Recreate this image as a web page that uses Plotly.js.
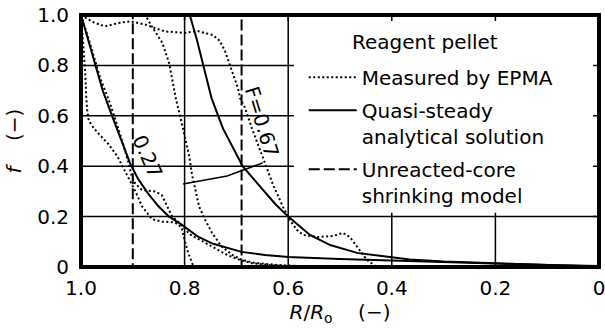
<!DOCTYPE html>
<html><head><meta charset="utf-8">
<script src="https://cdn.plot.ly/plotly-3.0.1.min.js"></script>
<style>html,body{margin:0;padding:0;background:#fff}</style>
</head><body>
<div id="chart" style="width:605px;height:329px"></div>
<script>
// ---- Measured by EPMA (dotted) ----
const measA_R = [1.0, 0.996, 0.992, 0.99, 0.988, 0.985, 0.975, 0.962, 0.948, 0.93, 0.915, 0.905, 0.895, 0.882, 0.863, 0.844, 0.824, 0.813, 0.805, 0.80, 0.793, 0.784, 0.775, 0.0];
const measA_F = [1.0, 0.90, 0.78, 0.68, 0.62, 0.58, 0.55, 0.52, 0.49, 0.44, 0.38, 0.34, 0.30, 0.24, 0.19, 0.18, 0.178, 0.172, 0.15, 0.107, 0.055, 0.008, 0.0, 0.0];
const measB_R = [1.0, 0.983, 0.963, 0.944, 0.925, 0.909, 0.902, 0.895, 0.882, 0.857, 0.844, 0.834, 0.824, 0.813, 0.803, 0.79, 0.77, 0.745, 0.718, 0.693, 0.67, 0.64, 0.6, 0.55, 0.0];
const measB_F = [1.0, 0.89, 0.75, 0.65, 0.53, 0.42, 0.36, 0.33, 0.305, 0.30, 0.285, 0.24, 0.20, 0.18, 0.16, 0.13, 0.107, 0.08, 0.048, 0.028, 0.015, 0.008, 0.003, 0.0, 0.0];
const measC_R = [1.0, 0.876, 0.862, 0.843, 0.83, 0.824, 0.817, 0.81, 0.804, 0.797, 0.791, 0.786, 0.78, 0.772, 0.761, 0.747, 0.728, 0.708, 0.689, 0.664, 0.62, 0.57, 0.5, 0.0];
const measC_F = [1.0, 1.0, 0.95, 0.89, 0.81, 0.74, 0.67, 0.61, 0.56, 0.49, 0.44, 0.37, 0.31, 0.24, 0.19, 0.135, 0.08, 0.048, 0.028, 0.016, 0.008, 0.003, 0.0, 0.0];
const measD_R = [1.0, 0.975, 0.954, 0.928, 0.905, 0.876, 0.857, 0.838, 0.80, 0.776, 0.745, 0.732, 0.722, 0.712, 0.703, 0.697, 0.693, 0.683, 0.67, 0.658, 0.649, 0.639, 0.629, 0.622, 0.61, 0.597, 0.583, 0.571, 0.544, 0.514, 0.494, 0.481, 0.467, 0.448, 0.429, 0.0];
const measD_F = [1.0, 0.97, 0.955, 0.968, 0.975, 0.962, 0.948, 0.935, 0.929, 0.937, 0.92, 0.897, 0.857, 0.80, 0.75, 0.71, 0.67, 0.63, 0.55, 0.484, 0.433, 0.377, 0.325, 0.294, 0.238, 0.187, 0.147, 0.127, 0.119, 0.123, 0.135, 0.119, 0.079, 0.028, 0.0, 0.0];

// ---- Quasi-steady analytical solution (solid) ----
const qsA_R = [1.0, 0.985, 0.972, 0.958, 0.94, 0.922, 0.905, 0.89, 0.87, 0.85, 0.83, 0.805, 0.774, 0.745, 0.716, 0.69, 0.645, 0.6, 0.5, 0.436, 0.3, 0.2, 0.1, 0.0];
const qsA_F = [1.0, 0.89, 0.80, 0.70, 0.60, 0.50, 0.41, 0.35, 0.29, 0.24, 0.20, 0.167, 0.12, 0.092, 0.075, 0.06, 0.048, 0.04, 0.032, 0.028, 0.02, 0.014, 0.007, 0.002];
const qsC_R = [1.0, 0.79, 0.776, 0.764, 0.748, 0.726, 0.706, 0.688, 0.67, 0.65, 0.625, 0.6, 0.578, 0.558, 0.519, 0.467, 0.404, 0.365, 0.3, 0.2, 0.1, 0.0];
const qsC_F = [1.0, 1.0, 0.90, 0.80, 0.67, 0.55, 0.47, 0.40, 0.357, 0.31, 0.25, 0.20, 0.16, 0.127, 0.087, 0.056, 0.04, 0.03, 0.022, 0.014, 0.008, 0.004];

// ---- Unreacted-core shrinking model (dashed) ----
const ucA_R = [1.0, 0.9, 0.9, 0.0];
const ucA_F = [1.0, 1.0, 0.0, 0.0];
const ucC_R = [1.0, 0.69, 0.69, 0.0];
const ucC_F = [1.0, 1.0, 0.0, 0.0];

// ---- ticks & labels ----
const xTickVals = [1.0, 0.8, 0.6, 0.4, 0.2, 0.0];
const xTickText = ['1.0', '0.8', '0.6', '0.4', '0.2', '0'];
const yTickVals = [0, 0.2, 0.4, 0.6, 0.8, 1.0];
const yTickText = ['0', '0.2', '0.4', '0.6', '0.8', '1.0'];
const legendNames = ['Measured by EPMA', 'Quasi-steady<br>analytical solution', 'Unreacted-core<br>shrinking model'];
const legendTitle = 'Reagent pellet';
const conversionLabels = ['0.27', 'F=0.67'];

const FONT = 'DejaVu Sans, Arial, sans-serif';
const dotStyle = {color: 'black', width: 2, dash: '2px,2.5px'};
const solidStyle = {color: 'black', width: 2};
const dashStyle = {color: 'black', width: 2, dash: '11px,4px'};

function tr(x, y, line, group, name, show) {
  return {x: x, y: y, type: 'scatter', mode: 'lines', line: line, name: name || '',
          legendgroup: group, showlegend: !!show, cliponaxis: false, hoverinfo: 'skip'};
}

const data = [
  tr(measA_R, measA_F, dotStyle, 'm', legendNames[0], true),
  tr(qsA_R, qsA_F, solidStyle, 'q', legendNames[1], true),
  tr(ucA_R, ucA_F, dashStyle, 'u', legendNames[2], true),
  tr(measB_R, measB_F, dotStyle, 'm'),
  tr(measC_R, measC_F, dotStyle, 'm'),
  tr(measD_R, measD_F, dotStyle, 'm'),
  tr(qsC_R, qsC_F, solidStyle, 'q'),
  tr(ucC_R, ucC_F, dashStyle, 'u')
];

// grid (stopping at the legend panel), frame and inner ticks as axis-referenced path shapes
const xMin = 0.0, xMax = 1.0, yMin = 0.0, yMax = 1.0;
const panelLeft = 0.589, panelBottom = 0.2;
const W = 518, H = 252, TL = 6;  // plot size (px) and tick length
const ix = 1 / W, iy = 1 / H;    // 1 px inset so the frame is not clipped
const inner = v => v > 1e-9 && v < 1 - 1e-9;
let gridPath = '', tickPath = '';
yTickVals.filter(inner).forEach(v => {
  gridPath += `M${xMax},${v} L${v > panelBottom + 1e-9 ? panelLeft : xMin},${v} `;
  tickPath += `M${xMin},${v} L${xMin + TL / W},${v} `;
});
xTickVals.filter(inner).forEach(v => {
  gridPath += `M${v},${yMin} L${v},${v < panelLeft ? panelBottom + 0.015 : yMax} `;
  tickPath += `M${v},${yMax} L${v},${yMax - TL / H} `;
});
const framePath = `M${xMax - ix},${yMin + iy} L${xMin + ix},${yMin + iy} L${xMin + ix},${yMax - iy} L${xMax - ix},${yMax - iy} Z`;

const axisCommon = {
  showline: true, linecolor: 'black', linewidth: 2, mirror: true, showgrid: false, zeroline: false,
  ticks: '', tickfont: {family: FONT, size: 20, color: 'black'}, tickmode: 'array',
  ticklabeloverflow: 'allow'
};

const layout = {
  width: 605, height: 329,
  margin: {l: 81, r: 6, t: 15, b: 62},
  paper_bgcolor: 'white', plot_bgcolor: 'white',
  font: {family: FONT, color: 'black'},
  xaxis: Object.assign({}, axisCommon, {
    range: [xMax, xMin], tickvals: xTickVals, ticktext: xTickText, ticklabelstandoff: 2,
    title: {text: '<i>R</i>/<i>R</i><sub>o</sub>\u00a0\u00a0\u00a0\u00a0(\u2212)', font: {family: FONT, size: 20, color: 'black'}, standoff: 6}
  }),
  yaxis: Object.assign({}, axisCommon, {
    range: [yMin, yMax], tickvals: yTickVals, ticktext: yTickText, ticklabelstandoff: 6,
    title: {text: '<i>f</i>\u00a0\u00a0\u00a0\u00a0(\u2212)', font: {family: FONT, size: 20, color: 'black'}, standoff: 10}
  }),
  showlegend: true,
  legend: {
    x: 0.43, y: 0.83, xanchor: 'left', yanchor: 'top',
    bgcolor: 'rgba(0,0,0,0)', borderwidth: 0,
    font: {family: FONT, size: 20, color: 'black'},
    itemwidth: 48, valign: 'top', traceorder: 'grouped', tracegroupgap: 4
  },
  shapes: [
    {type: 'path', xref: 'x', yref: 'y', path: gridPath, line: {color: 'black', width: 1.5}, layer: 'below'},
    {type: 'path', xref: 'x', yref: 'y', path: tickPath, line: {color: 'black', width: 1.5}, layer: 'above'},
    {type: 'path', xref: 'x', yref: 'y', path: framePath, line: {color: 'black', width: 2}, layer: 'above'},
    {type: 'path', xref: 'x', yref: 'y', path: 'M0.803,0.329 L0.718,0.361 L0.649,0.413',
     line: {color: 'black', width: 1.5}, layer: 'above'}
  ],
  annotations: [
    {x: 0.664, y: 0.893, xref: 'paper', yref: 'paper', text: legendTitle, showarrow: false,
     xanchor: 'center', yanchor: 'middle', font: {family: FONT, size: 20, color: 'black'}},
    {x: 0.871, y: 0.437, xref: 'x', yref: 'y', text: conversionLabels[0], showarrow: false,
     textangle: 66, font: {family: FONT, size: 20, color: 'black'}},
    {x: 0.651, y: 0.575, xref: 'x', yref: 'y', text: conversionLabels[1], showarrow: false,
     textangle: 73, font: {family: FONT, size: 20, color: 'black'}}
  ]
};

Plotly.newPlot('chart', data, layout, {staticPlot: true, displayModeBar: false});
</script></body></html>
